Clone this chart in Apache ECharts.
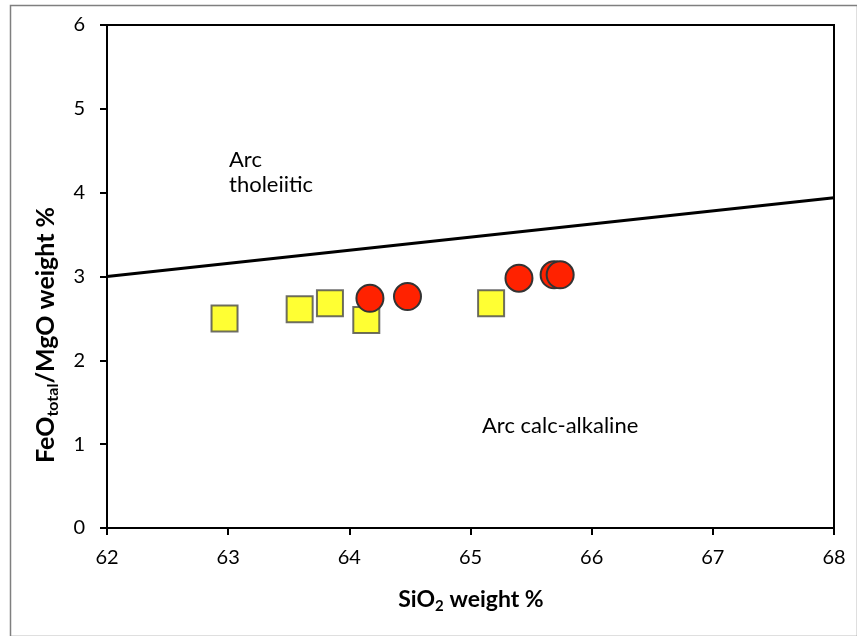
<!DOCTYPE html>
<html>
<head>
<meta charset="utf-8">
<script src="https://cdn.jsdelivr.net/npm/echarts@6/dist/echarts.min.js"></script>
<style>
html,body{margin:0;padding:0;background:#fff;}
#chart{width:857px;height:636px;}
</style>
</head>
<body>
<div id="chart"></div>
<script>
// Data
var xTicks = [62, 63, 64, 65, 66, 67, 68];
var yTicks = [0, 1, 2, 3, 4, 5, 6];
var squareX = [62.97, 63.59, 63.84, 64.14, 65.17];
var squareY = [2.50, 2.61, 2.68, 2.48, 2.68];
var circleX = [64.17, 64.48, 65.40, 65.69, 65.74];
var circleY = [2.74, 2.76, 2.98, 3.02, 3.02];
var boundaryX = [62, 68];
var boundaryY = [3.0, 3.94];

function zip(a, b) { return a.map(function (v, i) { return [v, b[i]]; }); }

var FONT = 'Lato, "Open Sans", sans-serif';
var chart = echarts.init(document.getElementById('chart'), null, {renderer: 'canvas'});
var option = {
  animation: false,
  backgroundColor: '#ffffff',
  grid: {left: 107, right: 23, top: 25, bottom: 108, show: true, borderColor: '#000', borderWidth: 2, backgroundColor: 'transparent'},
  xAxis: {
    type: 'value', min: xTicks[0], max: xTicks[xTicks.length - 1], interval: 1,
    axisLine: {lineStyle: {color: '#000', width: 2}},
    axisTick: {show: true, length: 7, lineStyle: {color: '#000', width: 2}},
    axisLabel: {color: '#000', fontSize: 20, fontFamily: FONT, margin: 20},
    splitLine: {show: false}
  },
  yAxis: {
    type: 'value', min: yTicks[0], max: yTicks[yTicks.length - 1], interval: 1,
    axisLine: {lineStyle: {color: '#000', width: 2}},
    axisTick: {show: true, length: 7, lineStyle: {color: '#000', width: 2}},
    axisLabel: {color: '#000', fontSize: 20, fontFamily: FONT, margin: 22},
    splitLine: {show: false}
  },
  series: [
    {
      type: 'line', data: zip(boundaryX, boundaryY), symbol: 'none',
      lineStyle: {color: '#000', width: 3}, z: 2
    },
    {
      type: 'scatter', data: zip(squareX, squareY), symbol: 'rect', symbolSize: 26,
      itemStyle: {color: '#ffff00', borderColor: '#4a4a4a', borderWidth: 2}, z: 3
    },
    {
      type: 'scatter', data: zip(circleX, circleY), symbol: 'circle', symbolSize: 27,
      itemStyle: {color: '#ff2200', borderColor: '#333', borderWidth: 2, opacity: 1}, z: 4
    }
  ],
  graphic: [
    {type: 'rect', left: 8, top: 3, shape: {width: 847, height: 631},
     style: {fill: 'none', stroke: '#7f7f7f', lineWidth: 1.5}, silent: true},
    {type: 'text', left: 229, top: 147, style: {text: 'Arc\ntholeiitic', fill: '#000', font: '22px ' + FONT, lineHeight: 25}},
    {type: 'text', left: 482, top: 415, style: {text: 'Arc calc-alkaline', fill: '#000', font: '22px ' + FONT}},
    {type: 'text', x: 471, y: 600,
     style: {text: '{b|SiO}{s|2}{b| weight %}', align: 'center', verticalAlign: 'middle',
       rich: {b: {fontSize: 23, fontWeight: 'bold', fontFamily: FONT, fill: '#000', lineHeight: 28, verticalAlign: 'middle'},
              s: {fontSize: 15, fontWeight: 'bold', fontFamily: FONT, fill: '#000', lineHeight: 15, verticalAlign: 'bottom'}}}},
    {type: 'text', x: 46, y: 335, rotation: Math.PI / 2,
     style: {text: '{b|FeO}{s|total}{b|/MgO weight %}', align: 'center', verticalAlign: 'middle',
       rich: {b: {fontSize: 25, fontWeight: 'bold', fontFamily: FONT, fill: '#000', lineHeight: 30, verticalAlign: 'middle'},
              s: {fontSize: 16, fontWeight: 'bold', fontFamily: FONT, fill: '#000', lineHeight: 16, verticalAlign: 'bottom'}}}}
  ]
};
chart.setOption(option);
</script>
</body>
</html>
